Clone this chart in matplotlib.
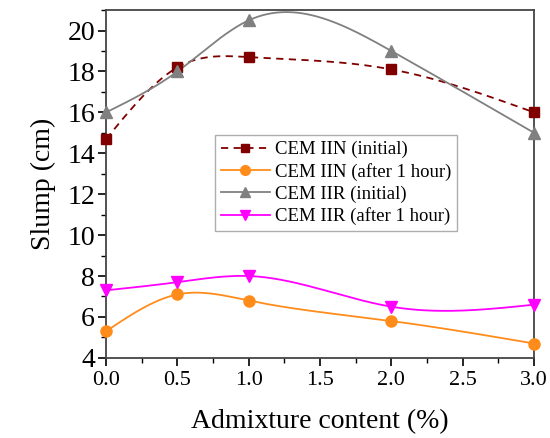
import matplotlib
matplotlib.use("Agg")
import matplotlib.pyplot as plt
import numpy as np
from matplotlib.ticker import MultipleLocator

# admixture content (%) and slump values (cm)
content = [0.0, 0.5, 1.0, 2.0, 3.0]
iin_initial = [14.7, 18.2, 18.7, 18.1, 16.0]
iin_1h = [5.3, 7.1, 6.8, 5.8, 4.7]
iir_initial = [16.0, 18.0, 20.5, 19.0, 15.0]
iir_1h = [7.3, 7.7, 8.0, 6.5, 6.6]
labels = ["CEM IIN (initial)", "CEM IIN (after 1 hour)",
          "CEM IIR (initial)", "CEM IIR (after 1 hour)"]


def spline(x, y, n=200):
    # natural cubic spline, only used to draw the smooth connecting line
    x = np.asarray(x, float)
    y = np.asarray(y, float)
    k = len(x)
    h = np.diff(x)
    A = np.zeros((k, k))
    b = np.zeros(k)
    A[0, 0] = A[-1, -1] = 1
    for i in range(1, k - 1):
        A[i, i - 1] = h[i - 1]
        A[i, i] = 2 * (h[i - 1] + h[i])
        A[i, i + 1] = h[i]
        b[i] = 6 * ((y[i + 1] - y[i]) / h[i] - (y[i] - y[i - 1]) / h[i - 1])
    M = np.linalg.solve(A, b)
    xs = np.linspace(x[0], x[-1], n)
    idx = np.clip(np.searchsorted(x, xs) - 1, 0, k - 2)
    x0, x1 = x[idx], x[idx + 1]
    hh = x1 - x0
    ys = (M[idx] * (x1 - xs) ** 3 / (6 * hh) + M[idx + 1] * (xs - x0) ** 3 / (6 * hh)
          + (y[idx] / hh - M[idx] * hh / 6) * (x1 - xs)
          + (y[idx + 1] / hh - M[idx + 1] * hh / 6) * (xs - x0))
    return xs, ys


plt.rcParams["font.family"] = ["Liberation Serif", "DejaVu Serif"]

fig = plt.figure(figsize=(5.5, 4.38), dpi=100)
ax = fig.add_axes([0.193, 0.183, 0.778, 0.794])

series = [
    (iin_initial, "#800000", "s", (0, (4, 3)), 7),
    (iin_1h, "#ff8c1a", "o", "-", 8),
    (iir_initial, "#808080", "^", "-", 8),
    (iir_1h, "#ff00ff", "v", "-", 8),
]
for (ys, color, marker, ls, ms), lab in zip(series, labels):
    sx, sy = spline(content, ys)
    ax.plot(sx, sy, color=color, ls=ls, lw=1.3, zorder=2)
    ax.plot(content, ys, ls="none", marker=marker, ms=ms, color=color,
            clip_on=False, zorder=3)
    ax.plot([], [], color=color, ls=ls, lw=1.3, marker=marker, ms=ms - 1,
            label=lab)

ax.set_xlim(0, 3)
ax.set_ylim(4, 21)
ax.xaxis.set_major_locator(MultipleLocator(0.5))
ax.xaxis.set_minor_locator(MultipleLocator(0.25))
ax.yaxis.set_major_locator(MultipleLocator(2))
ax.yaxis.set_minor_locator(MultipleLocator(1))
ax.xaxis.set_major_formatter(matplotlib.ticker.FormatStrFormatter("%.1f"))
ax.tick_params(which="major", direction="out", length=6, width=1.2,
               labelsize=16)
ax.tick_params(which="minor", direction="out", length=3.5, width=1.0)
ax.tick_params(axis="y", labelsize=20, pad=2)
for sp in ax.spines.values():
    sp.set_color("#444444")
    sp.set_linewidth(1.3)

ax.set_xlabel("Admixture content (%)", fontsize=20, labelpad=14)
ax.set_ylabel("Slump (cm)", fontsize=20, labelpad=8)

leg = ax.legend(loc="upper left", bbox_to_anchor=(0.255, 0.64), fontsize=13.5,
                frameon=True, fancybox=False, handlelength=2.6,
                borderpad=0.3, labelspacing=0.25, handletextpad=0.3,
                borderaxespad=0)
leg.get_frame().set_edgecolor("#999999")
leg.get_frame().set_linewidth(1.0)

fig.savefig("out.png", dpi=100)
